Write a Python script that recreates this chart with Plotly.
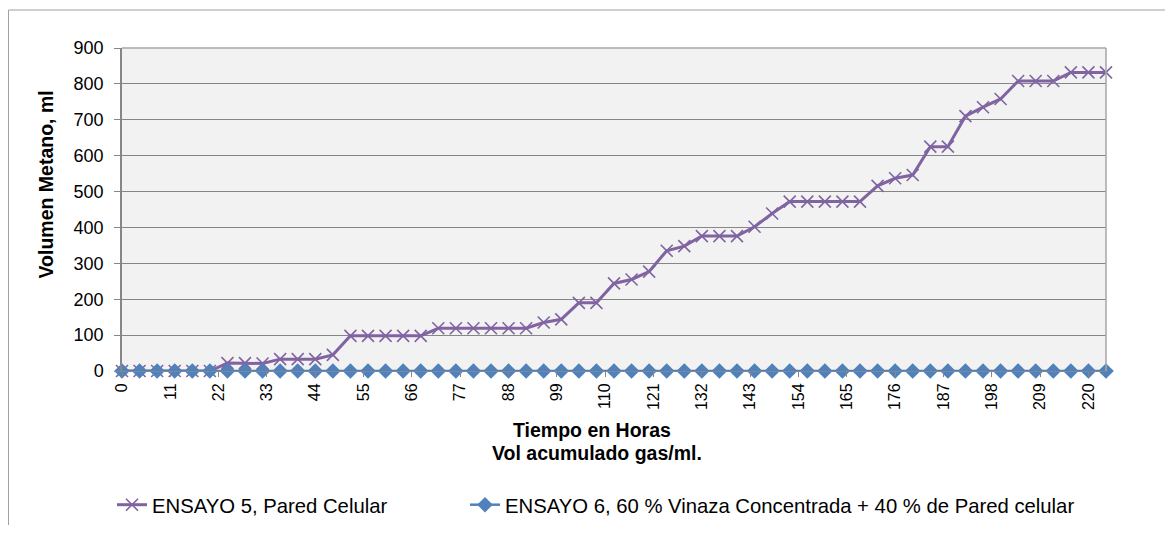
import plotly.graph_objects as go

hours = [4 * i for i in range(57)]
ensayo5 = [0, 0, 0, 0, 0, 0, 22, 22, 21, 33, 33, 33, 45, 98, 98, 98, 98, 98,
           119, 119, 119, 119, 119, 119, 135, 144, 190, 190, 244, 255, 277, 335,
           348, 376, 376, 376, 402, 439, 472, 472, 472, 472, 472, 516, 537, 546,
           625, 625, 710, 735, 758, 808, 808, 808, 832, 832, 832]
ensayo6 = [0] * 57
xticks = list(range(0, 221, 11))
yticks = list(range(0, 901, 100))

FONT = "Liberation Sans, Arial, sans-serif"

# page body has an 8px margin; plot area in the picture spans x 122..1106, y 48..371
OX, OY = 8, 8
PL, PR, PT, PB = 122, 1106, 48, 371
W, H = 1157, 517
PW, PH = PR - PL, PB - PT


def px(x):
    return (x - PL) / PW


def py(y):
    return (PB - y) / PH


fig = go.Figure()
fig.add_trace(go.Scatter(
    x=hours, y=ensayo5, mode="lines+markers", name="ENSAYO 5, Pared Celular",
    line=dict(color="#8064A2", width=3),
    marker=dict(symbol="x-thin", size=12, line=dict(color="#8064A2", width=1.6)),
    cliponaxis=False, legend="legend"))
fig.add_trace(go.Scatter(
    x=hours, y=ensayo6, mode="lines+markers",
    name="ENSAYO 6, 60 % Vinaza Concentrada + 40 % de Pared celular",
    line=dict(color="#4F81BD", width=2.5),
    marker=dict(symbol="diamond", size=12, color="#4F81BD"),
    cliponaxis=False, legend="legend2"))

legend_common = dict(orientation="h", xanchor="left", yanchor="middle",
                     font=dict(size=20.3, family=FONT), bgcolor="rgba(0,0,0,0)")

fig.update_layout(
    width=W, height=H,
    margin=dict(l=PL - OX, r=W - (PR - OX), t=PT - OY, b=H - (PB - OY),
                autoexpand=False),
    paper_bgcolor="white", plot_bgcolor="#F2F2F2",
    font=dict(family=FONT, size=16, color="black"),
    showlegend=True,
    legend=dict(x=px(112), y=py(505), **legend_common),
    legend2=dict(x=px(465), y=py(505), **legend_common),
    xaxis=dict(range=[0, 224], tickvals=xticks, ticktext=[str(v) for v in xticks],
               tickangle=-90, ticks="outside", ticklen=5, tickcolor="#868686",
               showgrid=False, showline=True, linecolor="#868686", linewidth=1,
               zeroline=False, tickfont=dict(size=16), automargin=False),
    yaxis=dict(range=[0, 900], tickvals=yticks, ticks="outside", ticklen=6,
               tickcolor="#868686", showgrid=True, gridcolor="#868686", gridwidth=1,
               showline=True, linecolor="#868686", linewidth=1.5, zeroline=False,
               tickfont=dict(size=18), ticklabelstandoff=7, automargin=False),
)

# plot area top and right border
fig.add_shape(type="line", xref="paper", yref="paper", x0=1, x1=1, y0=0, y1=1,
              line=dict(color="#A6A6A6", width=1.5))
fig.add_shape(type="line", xref="paper", yref="paper", x0=0, x1=1, y0=1, y1=1,
              line=dict(color="#A6A6A6", width=1.5))

# chart outer frame (top and left visible)
fig.add_shape(type="rect", xref="paper", yref="paper",
              x0=px(OX + 0.5), x1=px(1200), y0=py(560), y1=py(10),
              line=dict(color="#A0A0A0", width=1))

fig.add_annotation(text="<b>Volumen Metano, ml</b>", xref="paper", yref="paper",
                   x=px(45.5), y=py(185), showarrow=False, textangle=-90,
                   font=dict(size=19.5), xanchor="center", yanchor="middle")
fig.add_annotation(text="<b>Tiempo en Horas</b>", xref="paper", yref="paper",
                   x=px(592), y=py(430), showarrow=False,
                   font=dict(size=19.5), xanchor="center", yanchor="middle")
fig.add_annotation(text="<b>Vol acumulado gas/ml.</b>", xref="paper", yref="paper",
                   x=px(597), y=py(453), showarrow=False,
                   font=dict(size=19.5), xanchor="center", yanchor="middle")

fig.write_html("out.html")
